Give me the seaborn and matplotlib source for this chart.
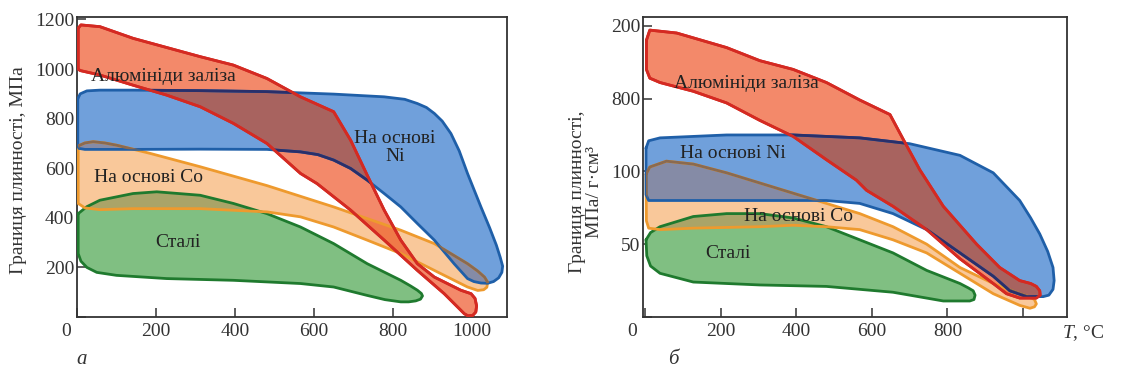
import numpy as np
import pandas as pd
import matplotlib
matplotlib.use("Agg")
import matplotlib.pyplot as plt
import seaborn as sns

sns.set_theme(style="white")
plt.rcParams["font.family"] = ["Liberation Serif", "DejaVu Serif"]
plt.rcParams["mathtext.fontset"] = "custom"
plt.rcParams["mathtext.it"] = "Liberation Serif:italic"
plt.rcParams["mathtext.rm"] = "Liberation Serif"

# ---------------- data: panel a (yield strength, MPa) ----------------
alu_a_x = [3, 10, 58, 142, 312, 396, 481, 566, 650, 693, 735, 778, 820, 862, 905, 972, 998, 1008,
           1012, 1010, 1002, 990, 981, 930, 862, 778, 693, 608, 566, 481, 396, 312, 227, 142, 58,
           8, 3]
alu_a_y = [1165, 1178, 1171, 1124, 1050, 1016, 962, 888, 828, 713, 572, 431, 310, 215, 161, 108, 94,
           75, 45, 20, 6, 5, 13, 94, 188, 310, 431, 538, 579, 700, 781, 848, 895, 935, 976,
           994, 1000]

ni_a_x = [2, 8, 25, 58, 142, 312, 481, 650, 778, 830, 862, 885, 905, 925, 947, 968, 989, 1023, 1045,
          1062, 1072, 1078, 1076, 1068, 1055, 1040, 1023, 1005, 989, 955, 905, 862, 820, 778, 735,
          693, 650, 610, 566, 481, 312, 142, 20, 5, 2]
ni_a_y = [880, 900, 912, 915, 915, 913, 909, 899, 888, 878, 861, 845, 821, 790, 740, 670, 579, 444,
          360, 290, 240, 205, 180, 158, 143, 136, 137, 143, 155, 215, 310, 377, 444, 498, 552,
          599, 633, 655, 666, 676, 677, 676, 676, 680, 690]

co_a_x = [3, 20, 41, 70, 100, 185, 312, 481, 650, 820, 905, 989, 1015, 1032, 1040, 1038, 1030, 1015,
          989, 905, 820, 735, 650, 566, 481, 312, 142, 58, 20, 3]
co_a_y = [690, 702, 707, 702, 693, 660, 606, 530, 444, 350, 296, 215, 185, 161, 140, 120, 110, 107,
          121, 188, 256, 310, 363, 404, 424, 437, 437, 433, 440, 458]

st_a_x = [3, 25, 58, 142, 202, 312, 396, 481, 566, 650, 735, 820, 845, 862, 872, 875, 870, 858, 840,
          820, 780, 735, 650, 566, 396, 227, 100, 50, 25, 10, 3]
st_a_y = [417, 445, 471, 498, 505, 491, 458, 417, 363, 296, 215, 148, 125, 108, 95, 85, 72, 65, 61,
          61, 70, 87, 121, 135, 148, 155, 168, 180, 200, 225, 256]

# ---------------- data: panel b (specific yield strength) ----------------
alu_b_x = [4, 13, 84, 216, 304, 392, 480, 568, 648, 683, 727, 789, 877, 938, 991, 1020, 1035, 1044,
           1045, 1035, 991, 956, 921, 833, 745, 656, 586, 559, 480, 392, 304, 216, 128, 40, 13, 4]
alu_b_y = [190, 197, 195, 185, 176, 170, 161, 149, 139, 122, 101, 76, 50, 34, 25, 23, 21, 18,
           15, 13, 13, 16, 23, 40, 60, 76, 87, 94, 108, 124, 135, 147, 155, 161, 164, 170]

ni_b_x = [3, 10, 40, 216, 392, 568, 700, 833, 921, 991, 1020, 1044, 1065, 1079, 1082, 1079, 1068,
          1053, 1009, 965, 921, 833, 745, 656, 568, 480, 304, 128, 10, 3]
ni_b_y = [116, 121, 123, 125, 125, 123, 119, 111, 99, 80, 68, 57, 45, 34, 25, 19, 15,
          14, 14, 18, 28, 44, 60, 71, 78, 80, 80, 80, 80, 84]

co_b_x = [3, 13, 57, 128, 216, 304, 392, 480, 568, 656, 745, 833, 921, 991, 1015, 1030, 1035, 1030,
          1018, 991, 921, 833, 745, 656, 568, 480, 392, 304, 128, 40, 10, 4]
co_b_y = [98, 103, 107, 105, 99, 92, 85, 78, 71, 62, 50, 34, 23, 16, 14, 12, 9, 7,
          6, 8, 16, 30, 44, 53, 60, 62, 63, 62, 61, 60, 61, 66]

st_b_x = [3, 15, 40, 128, 216, 304, 392, 480, 568, 656, 745, 833, 855, 868, 873, 870, 859, 789, 656,
          480, 304, 128, 40, 15, 5]
st_b_y = [53, 58, 62, 69, 71, 71, 68, 62, 53, 44, 32, 23, 20, 18, 15, 12, 11, 11, 17,
          21, 22, 24, 30, 35, 42]

# labels
region_names = ["Алюмініди заліза", "На основі Ni", "На основі Co", "Сталі"]
xticks_a = [0, 200, 400, 600, 800, 1000]
xticklabels_a = ["", "200", "400", "600", "800", "1000"]
yticks_a = [0, 200, 400, 600, 800, 1000, 1200]
yticklabels_a = ["", "200", "400", "600", "800", "1000", "1200"]
xticks_b = [0, 200, 400, 600, 800, 1000]
xticklabels_b = ["", "200", "400", "600", "800", ""]
yticks_b = [0, 50, 100, 150, 200]
yticklabels_b = ["", "50", "100", "800", "200"]

# ---------------- styles ----------------
fills = {"alu": "#F3896A", "ni": "#70A0DB", "co": "#F9C89A", "st": "#80BF82"}
edges = {"alu": "#D42A22", "ni": "#1F5FA8", "co": "#EE9A2E", "st": "#1F7A2E"}
overlap = {("co", "ni"): "#858BA6", ("st", "co"): "#AAA468", ("alu", "co"): "#F07A48",
           ("alu", "ni"): "#A8635F"}

fig = plt.figure(figsize=(11.29, 3.77), dpi=100)
ax_a = fig.add_axes([77 / 1129, 60 / 377, 430 / 1129, 300 / 377])
ax_b = fig.add_axes([643 / 1129, 60 / 377, 424 / 1129, 300 / 377])


def outline(ax, x, y, color, z):
    df = pd.DataFrame({"x": list(x) + [x[0]], "y": list(y) + [y[0]]})
    sns.lineplot(data=df, x="x", y="y", sort=False, estimator=None, ax=ax,
                 color=color, lw=2.0, zorder=z)
    line = ax.lines[-1]
    line.set_solid_joinstyle("round")
    return line


def draw_panel(ax, regions):
    patches = {}
    for key in ["ni", "co", "st", "alu"]:
        x, y = regions[key]
        patches[key] = ax.fill(x, y, color=fills[key], lw=0, zorder=1)[0]
    for (a, b), col in overlap.items():
        x, y = regions[a]
        p = ax.fill(x, y, color=col, lw=0, zorder=2)[0]
        p.set_clip_path(patches[b])
    for key in ["st", "co", "ni", "alu"]:
        x, y = regions[key]
        outline(ax, x, y, edges[key], 4)
    # orange edge inside blue appears brown
    x, y = regions["co"]
    outline(ax, x, y, "#8A6A50", 5).set_clip_path(patches["ni"])
    # blue edge inside red appears dark navy
    x, y = regions["ni"]
    outline(ax, x, y, "#2A2F6A", 5).set_clip_path(patches["alu"])
    # red edges stay on top
    x, y = regions["alu"]
    outline(ax, x, y, edges["alu"], 6)


draw_panel(ax_a, {"alu": (alu_a_x, alu_a_y), "ni": (ni_a_x, ni_a_y),
                  "co": (co_a_x, co_a_y), "st": (st_a_x, st_a_y)})
draw_panel(ax_b, {"alu": (alu_b_x, alu_b_y), "ni": (ni_b_x, ni_b_y),
                  "co": (co_b_x, co_b_y), "st": (st_b_x, st_b_y)})

fs = 14
for ax in (ax_a, ax_b):
    ax.set_xlabel("")
    ax.set_ylabel("")
    for s in ax.spines.values():
        s.set_color("#333333")
        s.set_linewidth(1.3)
    ax.tick_params(axis="both", which="both", direction="in", length=6.5, width=1.1,
                   colors="#333333", labelcolor="#333333", labelsize=fs,
                   left=True, bottom=True, top=False, right=False)
    ax.tick_params(axis="y", pad=2)
    ax.tick_params(axis="x", pad=4)
    ax.text(-0.025, -0.02, "0", transform=ax.transAxes, ha="center", va="top",
            fontsize=fs, color="#333333")

ax_a.set_xlim(0, 1089)
ax_a.set_ylim(0, 1210)
ax_a.set_xticks(xticks_a)
ax_a.set_xticklabels(xticklabels_a)
ax_a.set_yticks(yticks_a)
ax_a.set_yticklabels(yticklabels_a)

ax_b.set_xlim(-5, 1116)
ax_b.set_ylim(0, 206)
ax_b.set_xticks(xticks_b)
ax_b.set_xticklabels(xticklabels_b)
ax_b.set_yticks(yticks_b)
ax_b.set_yticklabels(yticklabels_b)

tc = "#222222"
ax_a.text(220, 970, region_names[0], fontsize=fs, color=tc, ha="center", va="center", zorder=8)
ax_a.text(805, 683, "На основі\nNi", fontsize=fs, color=tc, ha="center", va="center",
          linespacing=1.1, zorder=8)
ax_a.text(180, 561, region_names[2], fontsize=fs, color=tc, ha="center", va="center", zorder=8)
ax_a.text(255, 299, region_names[3], fontsize=fs, color=tc, ha="center", va="center", zorder=8)

ax_b.text(269, 160.6, region_names[0], fontsize=fs, color=tc, ha="center", va="center", zorder=8)
ax_b.text(233, 112, region_names[1], fontsize=fs, color=tc, ha="center", va="center", zorder=8)
ax_b.text(405, 69, region_names[2], fontsize=fs, color=tc, ha="center", va="center", zorder=8)
ax_b.text(220, 43.6, region_names[3], fontsize=fs, color=tc, ha="center", va="center", zorder=8)

ax_b.text(1.038, -0.02, r"$T$, °C", transform=ax_b.transAxes, ha="center", va="top",
          fontsize=fs, color="#333333")

fig.text(19 / 1129, 1 - 170 / 377, "Границя плинності, МПа", rotation=90, ha="center",
         va="center", fontsize=fs, color="#333333")
fig.text(586 / 1129, 1 - 192 / 377, "Границя плинності,\nМПа/ г·см³", rotation=90,
         ha="center", va="center", fontsize=fs, color="#333333", multialignment="center",
         linespacing=1.0)

fig.text(82 / 1129, 1 - 360 / 377, "а", style="italic", fontsize=15, ha="center",
         va="center", color="#333333")
fig.text(673 / 1129, 1 - 360 / 377, "б", style="italic", fontsize=15, ha="center",
         va="center", color="#333333")

fig.savefig("out.png", dpi=100, facecolor="white")
